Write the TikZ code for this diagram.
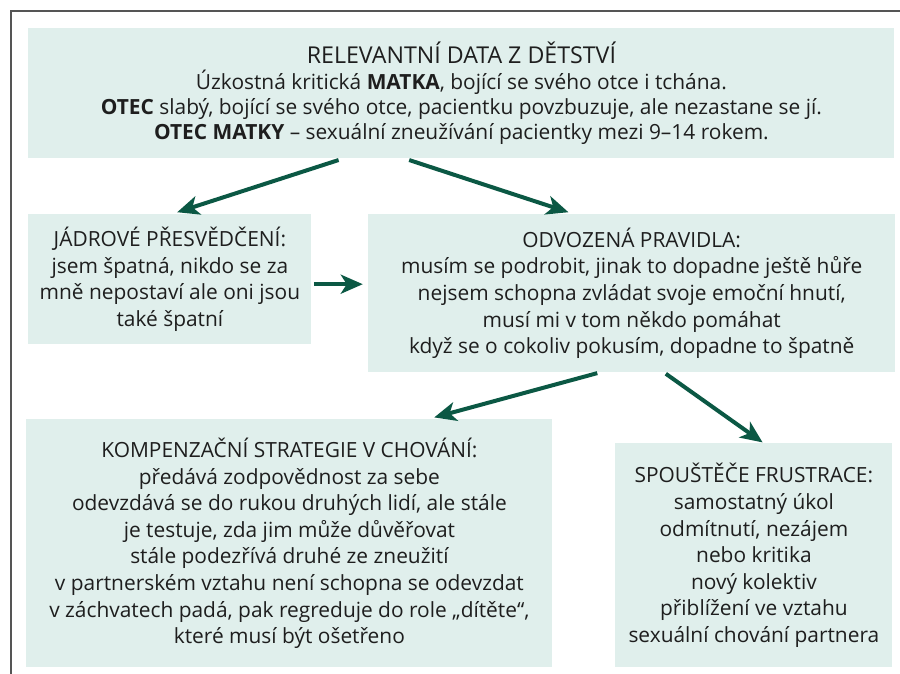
\documentclass[tikz,border=0pt]{standalone}
\usepackage{fontspec}
\setmainfont{Open Sans}
\usetikzlibrary{arrows.meta}
\usetikzlibrary{positioning}
\definecolor{boxfill}{HTML}{E0EFEC}
\definecolor{arrowgreen}{HTML}{0B5844}
\definecolor{textgray}{HTML}{1E1E1E}
\definecolor{framegray}{HTML}{555555}
\tikzstyle{box} = [rectangle, fill=boxfill, text=textgray, align=center, inner sep=0pt, anchor=north west, font=\fontsize{10.45}{13.3}\selectfont]
\tikzstyle{arrow} = [line width=2pt, draw=arrowgreen, -{Stealth[length=11pt, width=9.5pt, inset=3pt]}]
\tikzstyle{frame} = [line width=1pt, draw=framegray]

\begin{document}
\begin{tikzpicture}[x=0.5pt, y=-0.5pt]
    \useasboundingbox (0,0) rectangle (900,674);
    \draw [frame] (10,11) -- (900,11);
    \draw [frame] (11,11) -- (11,674);

    % Nodes
    \node (data) [box, minimum width=433pt, minimum height=65pt, font=\fontsize{10.45}{12.65}\selectfont] at (28,28)
        {{\fontsize{11.6}{12.65}\selectfont RELEVANTNÍ DATA Z DĚTSTVÍ}\\
         Úzkostná kritická \textbf{MATKA}, bojící se svého otce i tchána.\\
         \textbf{OTEC} slabý, bojící se svého otce, pacientku povzbuzuje, ale nezastane se jí.\\
         \textbf{OTEC MATKY} -- sexuální zneužívání pacientky mezi 9--14 rokem.};
    \node (jadro) [box, minimum width=141.5pt, minimum height=65pt, below=27.5pt of data.south west, anchor=north west]
        {JÁDROVÉ PŘESVĚDČENÍ:\\
         jsem špatná, nikdo se za\\
         mně nepostaví ale oni jsou\\
         také špatní};
    \node (pravidla) [box, minimum width=263.5pt, minimum height=79pt, right=28pt of jadro.north east, anchor=north west]
        {ODVOZENÁ PRAVIDLA:\\
         musím se podrobit, jinak to dopadne ještě hůře\\
         nejsem schopna zvládat svoje emoční hnutí,\\
         musí mi v tom někdo pomáhat\\
         když se o cokoliv pokusím, dopadne to špatně};
    \node (strategie) [box, minimum width=263pt, minimum height=124pt] at (26,419)
        {KOMPENZAČNÍ STRATEGIE V CHOVÁNÍ:\\
         předává zodpovědnost za sebe\\
         odevzdává se do rukou druhých lidí, ale stále\\
         je testuje, zda jim může důvěřovat\\
         stále podezřívá druhé ze zneužití\\
         v partnerském vztahu není schopna se odevzdat\\
         v záchvatech padá, pak regreduje do role „dítěte“,\\
         které musí být ošetřeno};
    \node (spoustece) [box, minimum width=138.5pt, minimum height=112pt] at (615,443)
        {SPOUŠTĚČE FRUSTRACE:\\
         samostatný úkol\\
         odmítnutí, nezájem\\
         nebo kritika\\
         nový kolektiv\\
         přiblížení ve vztahu\\
         sexuální chování partnera};

    % Arrows
    \draw [arrow, shorten <=2pt, shorten >=2.5pt] ([xshift=-59.5pt]data.south) -- ([xshift=1.25pt]jadro.north);
    \draw [arrow, shorten <=2pt, shorten >=2.5pt] ([xshift=-28pt]data.south) -- ([xshift=-29.25pt]pravidla.north);
    \draw [arrow, shorten <=1pt, shorten >=2.5pt] ([yshift=-2.5pt]jadro.east) -- ([yshift=-2.5pt]jadro.east -| pravidla.west);
    \draw [arrow, shorten <=1pt, shorten >=3pt] ([xshift=-16.25pt]pravidla.south) -- ([xshift=69.5pt]strategie.north);
    \draw [arrow, shorten <=1pt, shorten >=0.5pt] ([xshift=16.25pt]pravidla.south) -- ([xshift=4.75pt]spoustece.north);

\end{tikzpicture}
\end{document}
